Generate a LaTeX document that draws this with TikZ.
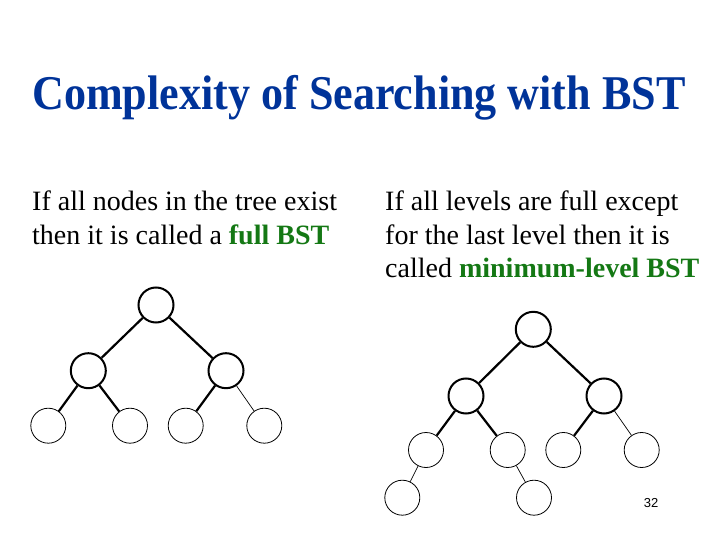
\documentclass[tikz,border=0pt]{standalone}
\usepackage{fontspec}
\setmainfont{Liberation Serif}
\newfontfamily\pagefont{Liberation Sans}
\definecolor{titleblue}{RGB}{0,51,153}
\definecolor{termgreen}{RGB}{20,120,20}
\begin{document}
\begin{tikzpicture}[x=1pt,y=-1pt,
  inner node/.style={circle,draw,line width=2pt,minimum size=35pt,inner sep=0pt},
  leaf node/.style={circle,draw,line width=0.8pt,minimum size=35pt,inner sep=0pt},
  heavy edge/.style={line width=2.2pt},
  light edge/.style={line width=0.7pt},
  bodytext/.style={anchor=base west,inner sep=0pt,font=\fontsize{28}{33}\selectfont}]
\useasboundingbox (0,0) rectangle (720,540);
% title
\node[anchor=base west,inner sep=0pt,text=titleblue] (title) at (32,110)
  {\scalebox{1}[1.1]{\fontsize{44.1}{50}\selectfont\bfseries Complexity of Searching with BST}};
% left text
\node[bodytext] (l1) at (32,211) {If all nodes in the tree exist};
\node[bodytext] (l2) at (32,244.3) {then it is called a \textcolor{termgreen}{\bfseries full BST}};
% right text
\node[bodytext] (r1) at (385,211) {If all levels are full except};
\node[bodytext] (r2) at (385,244.3) {for the last level then it is};
\node[bodytext] (r3) at (385,277.6) {called \textcolor{termgreen}{\bfseries minimum-level BST}};
% left tree
\node[inner node] (a) at (156,305) {};
\node[inner node] (aL) at (88.3,370.7) {};
\node[inner node] (aR) at (226,370.7) {};
\node[leaf node] (aLL) at (48.3,425.7) {};
\node[leaf node] (aLR) at (130,425.7) {};
\node[leaf node] (aRL) at (185.7,425.7) {};
\node[leaf node] (aRR) at (264.3,425.7) {};
\draw[heavy edge] (a) -- (aL);
\draw[heavy edge] (a) -- (aR);
\draw[heavy edge] (aL) -- (aLL);
\draw[heavy edge] (aL) -- (aLR);
\draw[heavy edge] (aR) -- (aRL);
\draw[light edge] (aR) -- (aRR);
% right tree
\node[inner node] (b) at (533.3,329.3) {};
\node[inner node] (bL) at (466,396) {};
\node[inner node] (bR) at (604,396) {};
\node[leaf node] (bLL) at (426,450) {};
\node[leaf node] (bLR) at (507.7,450) {};
\node[leaf node] (bRL) at (563.3,450) {};
\node[leaf node] (bRR) at (641.7,450) {};
\node[leaf node] (bLLL) at (402.3,497.7) {};
\node[leaf node] (bLRR) at (534,497.7) {};
\draw[heavy edge] (b) -- (bL);
\draw[heavy edge] (b) -- (bR);
\draw[heavy edge] (bL) -- (bLL);
\draw[heavy edge] (bL) -- (bLR);
\draw[heavy edge] (bR) -- (bRL);
\draw[light edge] (bR) -- (bRR);
\draw[light edge] (bLL) -- (bLLL);
\draw[light edge] (bLR) -- (bLRR);
% page number
\node[font=\pagefont\fontsize{13}{15}\selectfont] (pg) at (651,503) {32};
\end{tikzpicture}
\end{document}
